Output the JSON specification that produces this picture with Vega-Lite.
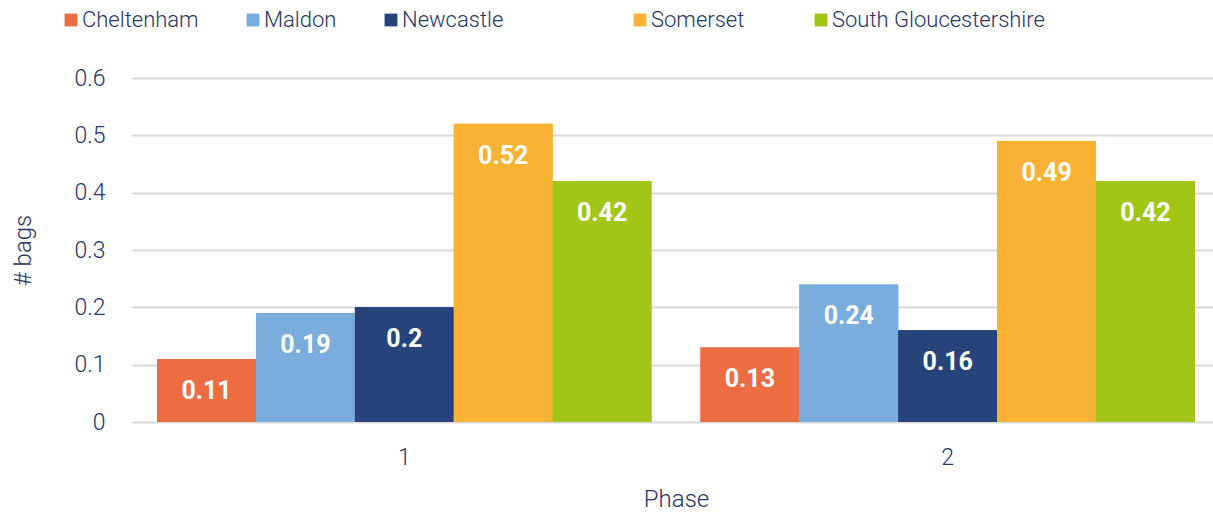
{
  "$schema": "https://vega.github.io/schema/vega-lite/v6.json",
  "width": 1090,
  "height": 344,
  "autosize": {"type": "none"},
  "padding": {"left": 131, "top": 78, "right": 0, "bottom": 96},
  "background": "white",
  "config": {
    "font": "Roboto",
    "view": {"stroke": null},
    "axis": {"labelColor": "#26345F", "titleColor": "#26345F", "labelFont": "Roboto", "titleFont": "Roboto", "labelFontWeight": 300, "titleFontWeight": 300},
    "legend": {
      "orient": "none", "direction": "horizontal",
      "symbolType": "square", "symbolSize": 165, "symbolStrokeWidth": 0, "symbolOpacity": 1,
      "labelFontSize": 22, "labelColor": "#26345F", "labelFont": "Roboto", "labelFontWeight": 300,
      "labelLimit": 400, "columnPadding": 43, "labelOffset": 0
    }
  },
  "data": {
    "values": [
      {"Phase": "1", "Council": "Cheltenham", "bags": 0.11},
      {"Phase": "1", "Council": "Maldon", "bags": 0.19},
      {"Phase": "1", "Council": "Newcastle", "bags": 0.2},
      {"Phase": "1", "Council": "Somerset", "bags": 0.52},
      {"Phase": "1", "Council": "South Gloucestershire", "bags": 0.42},
      {"Phase": "2", "Council": "Cheltenham", "bags": 0.13},
      {"Phase": "2", "Council": "Maldon", "bags": 0.24},
      {"Phase": "2", "Council": "Newcastle", "bags": 0.16},
      {"Phase": "2", "Council": "Somerset", "bags": 0.49},
      {"Phase": "2", "Council": "South Gloucestershire", "bags": 0.42}
    ]
  },
  "encoding": {
    "x": {
      "field": "Phase", "type": "nominal",
      "scale": {"paddingInner": 0.09, "paddingOuter": 0.048},
      "axis": {"title": "Phase", "labelAngle": 0, "labelFontSize": 23, "titleFontSize": 24, "labelPadding": 24, "titlePadding": 18, "ticks": false, "domain": false, "grid": false}
    },
    "xOffset": {"field": "Council", "type": "nominal", "sort": ["Cheltenham", "Maldon", "Newcastle", "Somerset", "South Gloucestershire"], "scale": {"paddingInner": 0, "paddingOuter": 0}},
    "y": {
      "field": "bags", "type": "quantitative",
      "scale": {"domain": [0, 0.6], "nice": false},
      "axis": {"title": "# bags", "values": [0, 0.1, 0.2, 0.3, 0.4, 0.5, 0.6], "format": ".1~f", "labelFontSize": 23, "titleFontSize": 24, "labelPadding": 26, "titlePadding": 38, "ticks": false, "domain": false, "gridColor": "#D9D9D9", "gridWidth": 2}
    }
  },
  "layer": [
    {
      "mark": {"type": "bar"},
      "encoding": {
        "color": {
          "field": "Council", "type": "nominal",
          "scale": {"domain": ["Cheltenham", "Maldon", "Newcastle", "Somerset", "South Gloucestershire"], "range": ["#EC6D42", "#7AADDB", "#26447A", "#F9B233", "#A2C617"]},
          "legend": {"title": null, "legendX": -71, "legendY": -69, "values": ["Cheltenham", "Maldon", "Newcastle"]}
        }
      }
    },
    {
      "mark": {"type": "bar"},
      "encoding": {
        "fill": {
          "field": "Council", "type": "nominal",
          "scale": {"domain": ["Somerset", "South Gloucestershire", "Cheltenham", "Maldon", "Newcastle"], "range": ["#F9B233", "#A2C617", "#EC6D42", "#7AADDB", "#26447A"]},
          "legend": {"title": null, "legendX": 498, "legendY": -69, "columnPadding": 65, "values": ["Somerset", "South Gloucestershire"]}
        }
      }
    },
    {
      "mark": {"type": "text", "color": "white", "fontWeight": "bold", "fontSize": 25, "baseline": "middle", "dy": 32, "font": "Roboto"},
      "encoding": {
        "text": {"field": "bags", "type": "quantitative"}
      }
    }
  ]
}
